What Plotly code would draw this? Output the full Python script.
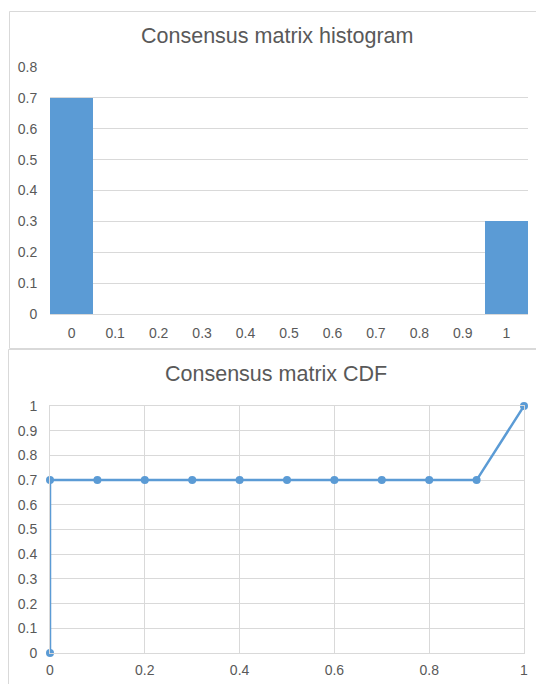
import plotly.graph_objects as go

# Histogram of consensus values (bin label -> fraction)
hist_bins = ["0", "0.1", "0.2", "0.3", "0.4", "0.5", "0.6", "0.7", "0.8", "0.9", "1"]
hist_values = [0.7, 0, 0, 0, 0, 0, 0, 0, 0, 0, 0.3]

# Empirical CDF of consensus values
cdf_x = [0, 0, 0.1, 0.2, 0.3, 0.4, 0.5, 0.6, 0.7, 0.8, 0.9, 1]
cdf_y = [0, 0.7, 0.7, 0.7, 0.7, 0.7, 0.7, 0.7, 0.7, 0.7, 0.7, 1]

W, H = 536, 684
BLUE = "#5B9BD5"
GRID = "#D9D9D9"
TXT = "#595959"
FONT = "Liberation Sans, Arial, sans-serif"


def px_x(p):
    return p / W


def px_y(p):
    return 1 - p / H


fig = go.Figure()

fig.add_trace(go.Bar(
    x=hist_bins, y=hist_values, marker=dict(color=BLUE, line=dict(width=0)),
    xaxis="x", yaxis="y", showlegend=False,
))

fig.add_trace(go.Scatter(
    x=cdf_x, y=cdf_y, mode="lines+markers",
    line=dict(color=BLUE, width=2.5),
    marker=dict(color=BLUE, size=8, line=dict(width=0)),
    cliponaxis=False, xaxis="x2", yaxis="y2", showlegend=False,
))

tick_font = dict(family=FONT, size=14, color=TXT)

fig.update_layout(
    width=W, height=H,
    margin=dict(l=0, r=0, t=0, b=0, autoexpand=False),
    paper_bgcolor="white", plot_bgcolor="white",
    bargap=0,
    font=dict(family=FONT, color=TXT),
    xaxis=dict(
        domain=[px_x(50), px_x(528)], anchor="y", type="category",
        categoryorder="array", categoryarray=hist_bins,
        range=[-0.5, 10.5], showgrid=False, showline=True, linecolor=GRID,
        linewidth=1, ticks="outside", ticklen=6, tickcolor="rgba(0,0,0,0)",
        tickfont=tick_font, zeroline=False, automargin=False,
    ),
    yaxis=dict(
        domain=[px_y(314), px_y(67)], anchor="x", range=[0, 0.8],
        dtick=0.1, showgrid=True, gridcolor=GRID, gridwidth=1,
        zeroline=False, showline=False, ticks="outside", ticklen=9,
        tickcolor="rgba(0,0,0,0)", tickfont=tick_font, automargin=False,
    ),
    xaxis2=dict(
        domain=[px_x(50), px_x(524)], anchor="y2", range=[0, 1], dtick=0.2,
        showgrid=True, gridcolor=GRID, gridwidth=1,
        zeroline=False, showline=True, mirror=True, linecolor=GRID,
        ticks="outside", ticklen=4, tickcolor="rgba(0,0,0,0)",
        tickfont=tick_font, automargin=False,
    ),
    yaxis2=dict(
        domain=[px_y(653), px_y(406)], anchor="x2", range=[0, 1], dtick=0.1,
        showgrid=True, gridcolor=GRID, gridwidth=1,
        zeroline=False, showline=True, mirror=True, linecolor=GRID,
        ticks="outside", ticklen=9, tickcolor="rgba(0,0,0,0)",
        tickfont=tick_font, automargin=False,
    ),
    annotations=[
        dict(text="Consensus matrix histogram", x=px_x(277), y=px_y(36),
             xref="paper", yref="paper", showarrow=False,
             xanchor="center", yanchor="middle",
             font=dict(family=FONT, size=21.5, color=TXT)),
        dict(text="Consensus matrix CDF", x=px_x(276), y=px_y(374),
             xref="paper", yref="paper", showarrow=False,
             xanchor="center", yanchor="middle",
             font=dict(family=FONT, size=21.5, color=TXT)),
    ],
    shapes=[
        # chart frames
        dict(type="rect", xref="paper", yref="paper",
             x0=px_x(9.5), x1=px_x(540), y0=px_y(348.5), y1=px_y(11.5),
             line=dict(color=GRID, width=1), fillcolor="rgba(0,0,0,0)"),
        dict(type="rect", xref="paper", yref="paper",
             x0=px_x(8.5), x1=px_x(540), y0=px_y(700), y1=px_y(349.5),
             line=dict(color=GRID, width=1), fillcolor="rgba(0,0,0,0)"),
    ],
)

fig.write_html("out.html")
